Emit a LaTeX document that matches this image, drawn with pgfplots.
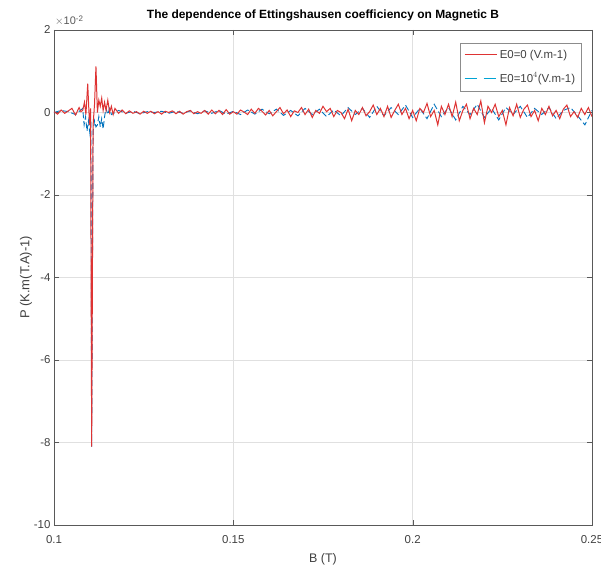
\documentclass[border=0pt]{standalone}
\usepackage{pgfplots}
\pgfplotsset{compat=1.18}
\usepackage{fontspec}
\setmainfont{Liberation Sans}
\definecolor{mred}{rgb}{0.87,0.2,0.2}
\definecolor{mblue}{rgb}{0.0,0.447,0.741}
\definecolor{axgray}{rgb}{0.35,0.35,0.35}
\begin{document}
\begin{tikzpicture}
\begin{axis}[
  name=ax,
  scale only axis,
  width=538bp, height=495bp,
  xmin=0.1, xmax=0.25, ymin=-10, ymax=2,
  xtick={0.1,0.15,0.2,0.25},
  xticklabels={0.1,0.15,0.2,0.25},
  ytick={-10,-8,-6,-4,-2,0,2},
  tick align=inside,
  major tick length=5bp,
  grid=major,
  major grid style={draw=black!12},
  axis line style={draw=axgray},
  tick style={draw=axgray},
  ticklabel style={font=\fontsize{11.5}{13}\selectfont, text=black!75},
  xticklabel style={yshift=-7bp},
  /pgf/number format/assume math mode=true,
  scaled x ticks=false,
  xlabel={B (T)},
  ylabel={P (K.m(T.A)-1)},
  xlabel style={font=\fontsize{12.5}{14}\selectfont, text=black!75, yshift=-3pt},
  ylabel style={font=\fontsize{13}{15}\selectfont, text=black!75, yshift=-5pt},
  title={\bfseries The dependence of Ettingshausen coefficiency on Magnetic B},
  title style={font=\fontsize{12}{14}\selectfont, yshift=-1pt},
  legend style={at={(rel axis cs:0.98,0.974)}, anchor=north east, draw=black!45,
    font=\fontsize{11.5}{13}\selectfont, text=black!75, row sep=9pt, inner xsep=4pt, inner ysep=5pt},
  legend cell align=left,
  legend image code/.code={\draw[#1] (0cm,0cm) -- (1.15cm,0cm);},
]
\addlegendimage{draw=mred, line width=1.1pt}
\addlegendentry{E0=0 (V.m-1)}
\addlegendimage{draw=mblue!65!cyan, line width=1.1pt, dash pattern=on 12bp off 7bp}
\addlegendentry{E0=10$^4$(V.m-1)}
\addplot[mblue, line width=0.9pt, dash pattern=on 6pt off 3pt, forget plot] coordinates {
(0.100,0.0) (0.102,0.05) (0.104,0.02) (0.106,-0.05) (0.108,0.1) (0.1084,-0.3)
(0.1088,-0.1) (0.1092,-0.45) (0.1096,-0.2) (0.1100,-0.5) (0.1103,-0.2) (0.1105,-8.1)
(0.1109,-0.45) (0.1113,-0.2) (0.1117,-0.35) (0.1121,-0.3) (0.1125,-0.1) (0.1129,-0.35)
(0.1133,-0.15) (0.1137,-0.4) (0.1141,-0.1) (0.1145,0.1) (0.1150,-0.05) (0.1155,0.1)
(0.116,-0.05) (0.118,0.05) (0.120,-0.02) (0.122,0.03) (0.124,-0.03) (0.126,0.02)
(0.128,0.0) (0.130,0.03) (0.132,-0.02) (0.134,0.03) (0.136,-0.02) (0.138,0.04)
(0.140,-0.03) (0.142,0.04) (0.144,-0.02) (0.146,0.05) (0.148,-0.04) (0.150,0.03)
(0.152,-0.05) (0.154,0.06) (0.156,-0.04) (0.158,0.08) (0.160,-0.03) (0.162,0.08)
(0.164,-0.07) (0.166,0.05) (0.168,-0.08) (0.170,0.1) (0.172,-0.05) (0.174,0.08)
(0.176,-0.1) (0.178,0.06) (0.180,-0.08) (0.182,0.12) (0.184,-0.05) (0.186,0.1)
(0.188,-0.12) (0.190,0.15) (0.192,-0.08) (0.194,0.12) (0.196,-0.05) (0.198,0.18)
(0.200,-0.12) (0.202,0.1) (0.204,-0.15) (0.206,0.2) (0.208,-0.1) (0.210,0.12)
(0.212,-0.18) (0.214,0.15) (0.216,-0.05) (0.218,0.2) (0.220,-0.12) (0.222,0.1)
(0.224,-0.18) (0.226,0.12) (0.228,-0.05) (0.230,0.15) (0.232,-0.12) (0.234,0.1)
(0.236,-0.05) (0.238,0.12) (0.240,-0.15) (0.242,0.05) (0.244,0.12) (0.246,-0.08)
(0.248,-0.3) (0.250,0.05)
};
\addplot[mred, line width=1.0pt, forget plot] coordinates {
(0.100,0.02) (0.101,-0.04) (0.102,0.06) (0.103,-0.02) (0.104,0.04) (0.105,0.1)
(0.106,-0.06) (0.107,0.12) (0.1075,0.02) (0.1080,0.05) (0.1085,0.25) (0.1089,-0.05)
(0.1094,0.7) (0.1099,-0.3) (0.1102,0.1) (0.1105,-8.1) (0.1109,-0.3) (0.1113,0.2)
(0.1117,1.12) (0.1121,0.0) (0.1125,0.3) (0.1129,0.15) (0.1133,0.35) (0.1137,0.05)
(0.1141,0.25) (0.1145,0.05) (0.1150,0.3) (0.1155,0.0) (0.1160,0.15) (0.1165,-0.05)
(0.117,0.1) (0.118,-0.02) (0.119,0.06) (0.120,-0.03) (0.121,0.04) (0.122,-0.02)
(0.123,0.02) (0.124,-0.04) (0.125,0.03) (0.126,-0.02) (0.127,0.03) (0.128,-0.03)
(0.129,0.02) (0.130,-0.04) (0.131,0.03) (0.132,0.0) (0.133,0.04) (0.134,-0.03)
(0.135,0.03) (0.136,-0.04) (0.137,0.02) (0.138,0.05) (0.139,-0.03) (0.140,0.02)
(0.141,-0.02) (0.142,0.05) (0.143,-0.04) (0.144,0.06) (0.145,-0.03) (0.146,0.05)
(0.147,-0.05) (0.148,0.07) (0.149,-0.04) (0.150,0.02) (0.151,-0.04) (0.152,0.06)
(0.153,0.01) (0.154,-0.05) (0.155,0.08) (0.156,-0.02) (0.157,0.1) (0.158,0.03)
(0.159,-0.06) (0.160,0.05) (0.161,-0.08) (0.162,0.02) (0.163,0.12) (0.164,-0.03)
(0.165,0.06) (0.166,-0.1) (0.167,0.04) (0.168,0.0) (0.169,0.12) (0.170,-0.05)
(0.171,0.08) (0.172,-0.12) (0.173,0.05) (0.174,-0.02) (0.175,0.15) (0.176,0.02)
(0.177,0.1) (0.178,-0.1) (0.179,0.05) (0.180,0.0) (0.181,-0.15) (0.182,0.08)
(0.183,-0.2) (0.184,0.05) (0.185,-0.05) (0.186,0.12) (0.187,-0.08) (0.188,0.02)
(0.189,0.18) (0.190,-0.05) (0.191,0.1) (0.192,-0.1) (0.193,0.15) (0.194,-0.12)
(0.195,0.05) (0.196,0.2) (0.197,-0.05) (0.198,0.1) (0.199,-0.15) (0.200,0.05)
(0.201,-0.2) (0.202,0.1) (0.203,0.0) (0.204,0.22) (0.205,-0.1) (0.206,0.05)
(0.207,-0.3) (0.208,0.15) (0.209,-0.05) (0.210,0.2) (0.211,-0.1) (0.212,0.25)
(0.213,-0.2) (0.214,0.05) (0.215,0.2) (0.216,-0.15) (0.217,0.1) (0.218,-0.05)
(0.219,0.28) (0.220,-0.25) (0.221,0.15) (0.222,0.0) (0.223,0.2) (0.224,-0.1)
(0.225,0.05) (0.226,-0.3) (0.227,0.12) (0.228,-0.08) (0.229,0.2) (0.230,-0.12)
(0.231,0.08) (0.232,0.18) (0.233,-0.1) (0.234,0.05) (0.235,-0.2) (0.236,0.1)
(0.237,-0.05) (0.238,0.15) (0.239,-0.08) (0.240,0.05) (0.241,-0.15) (0.242,0.08)
(0.243,0.18) (0.244,-0.1) (0.245,0.02) (0.246,-0.12) (0.247,0.1) (0.248,-0.05)
(0.249,0.12) (0.250,-0.1)
};
\end{axis}
\node[anchor=south west, font=\fontsize{11}{13}\selectfont, text=black!65, inner sep=1pt]
  at ([xshift=0bp,yshift=3bp]ax.north west) {$\times$10\raisebox{0.6ex}{\fontsize{8}{9}\selectfont -2}};
\pgfresetboundingbox
\path ([xshift=-54bp,yshift=-46bp]ax.south west) rectangle ([xshift=9bp,yshift=30bp]ax.north east);
\end{tikzpicture}
\end{document}
